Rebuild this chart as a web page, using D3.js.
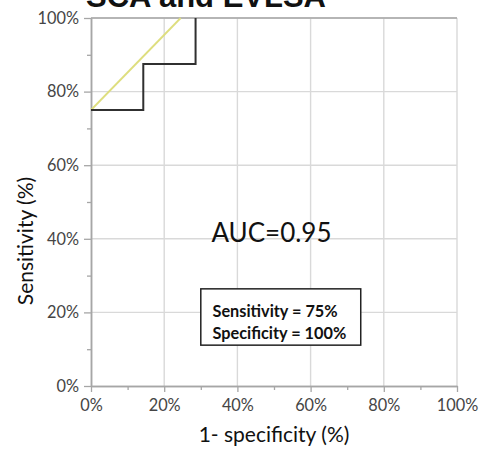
<!DOCTYPE html>
<html><head><meta charset="utf-8">
<script src="https://cdn.jsdelivr.net/npm/d3@7"></script>
<style>
html,body{margin:0;padding:0;background:#fff;}
svg{display:block;}
</style></head>
<body>
<svg id="c" width="487" height="452"></svg>
<script>
// ---- data ----
const title = "SCA and EVLSA";
const rocFpr = [0, 1/7, 1/7, 2/7, 2/7];
const rocTpr = [0.75, 0.75, 0.875, 0.875, 1.0];
const fitFpr = [0, 0.245];
const fitTpr = [0.75, 1.0];
const tickValues = [0, 0.2, 0.4, 0.6, 0.8, 1.0];
const minorTickValues = [0.1, 0.3, 0.5, 0.7, 0.9];
const xTitle = "1- specificity (%)";
const yTitle = "Sensitivity (%)";
const aucLabel = "AUC=0.95";
const boxLines = ["Sensitivity = 75%", "Specificity = 100%"];

// ---- layout ----
const svg = d3.select("#c");
const x = d3.scaleLinear().domain([0, 1]).range([91, 457]);
const y = d3.scaleLinear().domain([0, 1]).range([386, 18]);
const fmt = d3.format(".0%");
const axisCol = "#a6a6a6", gridCol = "#d9d9d9", labCol = "#454545";
const font = "Lato, 'Open Sans', sans-serif";

// title (mostly clipped at top, as in the reference)
svg.append("text").attr("x", 206).attr("y", 7).attr("text-anchor", "middle")
  .attr("font-family", "'Liberation Sans', Arial, sans-serif").attr("font-weight", "bold")
  .attr("font-size", 31).attr("fill", "#111").text(title);

// grid
svg.append("g").selectAll("line").data(tickValues.filter(d => d > 0)).join("line")
  .attr("x1", d => x(d)).attr("x2", d => x(d)).attr("y1", y(0)).attr("y2", y(1))
  .attr("stroke", gridCol).attr("stroke-width", 1.4);
svg.append("g").selectAll("line").data(tickValues.filter(d => d > 0)).join("line")
  .attr("y1", d => y(d)).attr("y2", d => y(d)).attr("x1", x(0)).attr("x2", x(1))
  .attr("stroke", gridCol).attr("stroke-width", 1.4);

// axes
const xAxis = svg.append("g").attr("transform", `translate(0,${y(0)})`)
  .call(d3.axisBottom(x).tickValues(tickValues).tickFormat(fmt).tickSizeInner(6).tickSizeOuter(0).tickPadding(4));
const xMinor = svg.append("g").attr("transform", `translate(0,${y(0)})`)
  .call(d3.axisBottom(x).tickValues(minorTickValues).tickFormat("").tickSizeInner(4).tickSizeOuter(0));
const yAxis = svg.append("g").attr("transform", `translate(${x(0)},0)`)
  .call(d3.axisLeft(y).tickValues(tickValues).tickFormat(fmt).tickSizeInner(7).tickSizeOuter(0).tickPadding(5));
const yMinor = svg.append("g").attr("transform", `translate(${x(0)},0)`)
  .call(d3.axisLeft(y).tickValues(minorTickValues).tickFormat("").tickSizeInner(4).tickSizeOuter(0));
[xAxis, xMinor, yAxis, yMinor].forEach(g => {
  g.select(".domain").attr("stroke", axisCol).attr("stroke-width", 1.5);
  g.selectAll(".tick line").attr("stroke", axisCol).attr("stroke-width", 1.3);
  g.selectAll(".tick text").attr("fill", labCol).attr("font-family", font).attr("font-size", 16.3);
});
xAxis.selectAll(".tick text").attr("dy", "0.92em");

// top border
svg.append("line").attr("x1", x(0)).attr("x2", x(1)).attr("y1", y(1)).attr("y2", y(1))
  .attr("stroke", axisCol).attr("stroke-width", 1.3);

// axis titles
svg.append("text").attr("x", 274).attr("y", 442).attr("text-anchor", "middle")
  .attr("font-family", font).attr("font-size", 21).attr("fill", "#111").text(xTitle);
svg.append("text").attr("transform", `translate(33,241) rotate(-90)`).attr("text-anchor", "middle")
  .attr("font-family", font).attr("font-size", 21).attr("fill", "#111").text(yTitle);

// curves
const line = d3.line().x(d => x(d[0])).y(d => y(d[1]));
svg.append("path").datum(d3.zip(fitFpr, fitTpr)).attr("d", line)
  .attr("fill", "none").attr("stroke", "#dede7e").attr("stroke-width", 1.8);
svg.append("path").datum(d3.zip(rocFpr, rocTpr)).attr("d", line)
  .attr("fill", "none").attr("stroke", "#303030").attr("stroke-width", 2);

// annotations
svg.append("text").attr("x", x(0.329)).attr("y", y(0.39)).attr("text-anchor", "start")
  .attr("font-family", font).attr("font-size", 26).attr("fill", "#111").text(aucLabel);

svg.append("rect").attr("x", x(0.30)).attr("y", y(0.264)).attr("width", x(0.737) - x(0.30))
  .attr("height", y(0.111) - y(0.264)).attr("fill", "#fff").attr("stroke", "#222").attr("stroke-width", 1.5);
svg.selectAll(".bl").data(boxLines).join("text").attr("class", "bl")
  .attr("x", x(0.332)).attr("y", (d, i) => y(0.2) + 5 + i * 21.5)
  .attr("font-family", font).attr("font-weight", "bold").attr("font-size", 16.3).attr("fill", "#111").text(d => d);
</script>
</body></html>
